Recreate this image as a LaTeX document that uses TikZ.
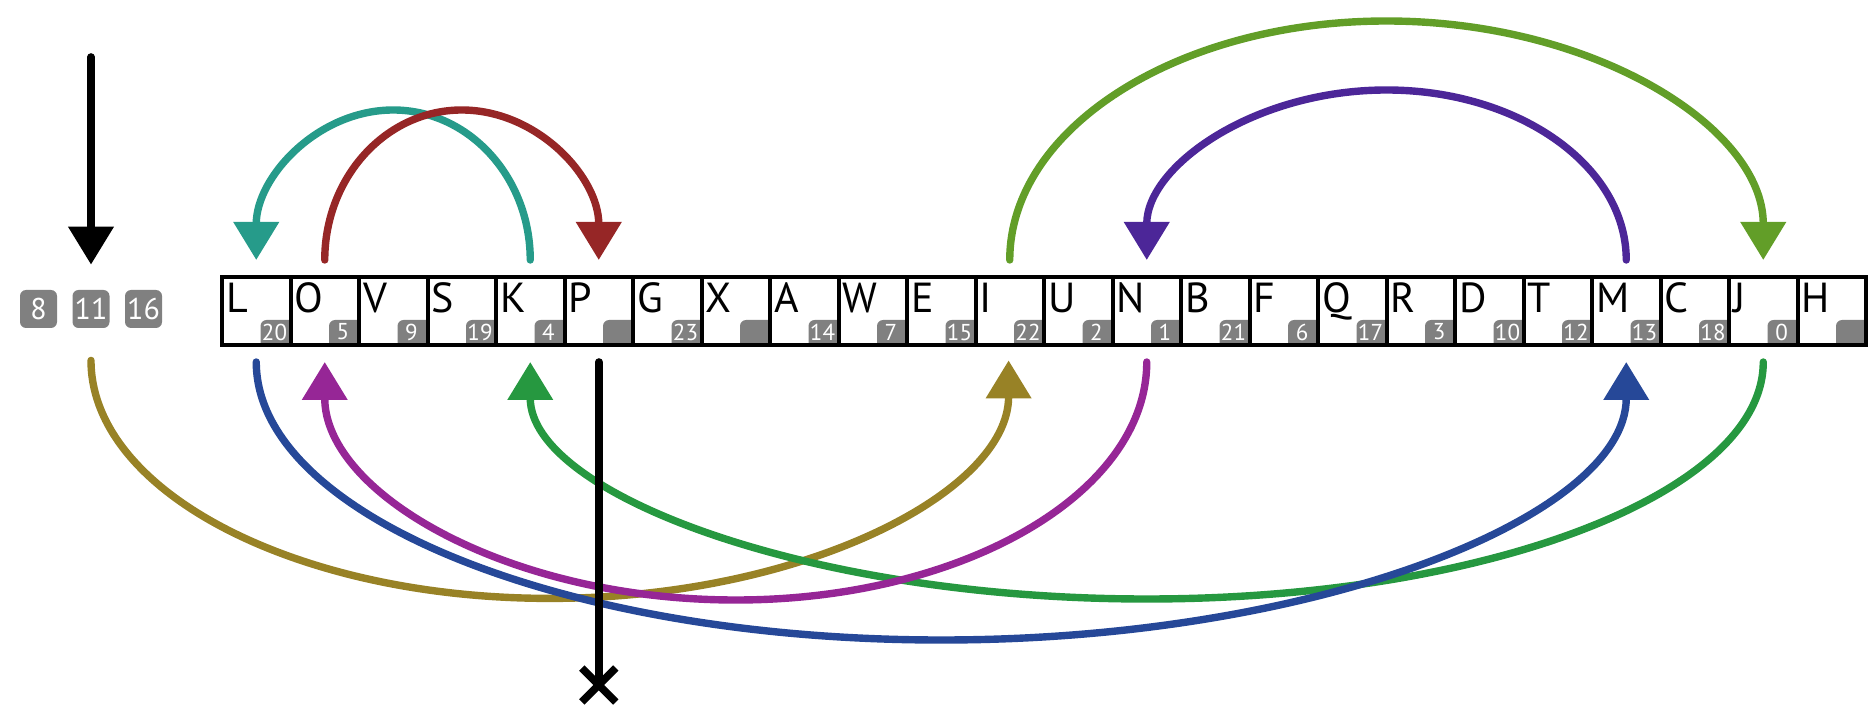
\documentclass[tikz,border=0pt]{standalone}
\usepackage{fontspec}
\setmainfont{PT Sans}
\usetikzlibrary{arrows.meta}
\definecolor{cTeal}{HTML}{269B8A}
\definecolor{cRed}{HTML}{962626}
\definecolor{cLime}{HTML}{629E28}
\definecolor{cPurple}{HTML}{4C2698}
\definecolor{cOlive}{HTML}{988226}
\definecolor{cBlue}{HTML}{264898}
\definecolor{cMag}{HTML}{962696}
\definecolor{cGreen}{HTML}{269840}
\definecolor{cGrey}{HTML}{808080}
\begin{document}
\begin{tikzpicture}[x=0.5pt,y=-0.5pt,
  cellbox/.style={draw=black, line width=2pt, minimum width=34.25pt, minimum height=33.85pt, inner sep=0pt},
  letter/.style={anchor=base west, inner sep=0pt, font=\fontsize{21}{24}\selectfont},
  numtxt/.style={inner sep=0pt, text=white, font=\fontsize{11.5}{13}\selectfont},
  lbadge/.style={fill=cGrey, rounded corners=3pt, minimum width=18.5pt, minimum height=19pt, inner sep=0pt, text=white, font=\fontsize{15}{17}\selectfont},
  conn/.style={line width=3.7pt, line cap=round},
  tip/.style={-{Triangle[width=22pt,length=19pt]}},
  blk/.style={line width=3.8pt, line cap=round}]
\useasboundingbox (0,0) rectangle (1873,705);
% badges inside cells
\foreach \l/\n [count=\i from 0] in {L/20,O/5,V/9,S/19,K/4,P/,G/23,X/,A/14,W/7,E/15,I/22,U/2,N/1,B/21,F/6,Q/17,R/3,D/10,T/12,M/13,C/18,J/0,H/}{
  \pgfmathsetmacro{\cl}{222+68.5*\i}
  \pgfmathsetmacro{\cr}{222+68.5*(\i+1)}
  \begin{scope}
    \clip (\cl,277) rectangle (\cr,344.7);
    \fill[cGrey, rounded corners=3pt] (\cr-30,320) rectangle (\cr+12,356);
  \end{scope}
  \node[numtxt] (n\i) at (\cr-16,332) {\n};
  \node[letter] (l\i) at (\cl+4,313) {\l};
}
% cell boxes
\foreach \i in {0,...,23}{
  \pgfmathsetmacro{\cx}{256.25+68.5*\i}
  \node[cellbox] (c\i) at (\cx,310.85) {};
  \coordinate (t\i) at ([yshift=7.5pt]c\i.north);
  \coordinate (b\i) at ([yshift=-7.65pt]c\i.south);
}
% left badges
\node[lbadge] (k8) at (38.5,309) {8};
\node[lbadge] (k11) at (91,309) {11};
\node[lbadge] (k16) at (143.5,309) {16};
\coordinate (src) at (91,57);
\coordinate (ostart) at ([yshift=-16pt]k11.south);
\coordinate (xm) at ([yshift=-161.5pt]b5);
% top connectors
\draw[blk,tip] (src) -- ([yshift=12.5pt]k11.north);
\draw[conn,tip,cTeal] (t4) arc[start angle=0, end angle=180, x radius=68.5pt, y radius=75pt];
\draw[conn,tip,cRed] (t1) arc[start angle=180, end angle=0, x radius=68.5pt, y radius=75pt];
\draw[conn,tip,cLime] (t11) arc[start angle=180, end angle=0, x radius=188.375pt, y radius=119.5pt];
\draw[conn,tip,cPurple] (t20) arc[start angle=0, end angle=180, x radius=119.875pt, y radius=85pt];
% bottom connectors
\draw[conn,tip,cOlive] (ostart) arc[start angle=180, end angle=360, x radius=229.4pt, y radius=119pt];
\draw[conn,tip,cGreen] (b22) arc[start angle=360, end angle=180, x radius=308.25pt, y radius=118.5pt];
\draw[conn,tip,cMag] (b13) arc[start angle=360, end angle=180, x radius=205.5pt, y radius=119pt];
\draw[conn,tip,cBlue] (b0) arc[start angle=180, end angle=360, x radius=342.5pt, y radius=139pt];
\draw[blk] (b5) -- (xm);
\draw[line width=3.8pt] ([shift={(-17,-17)}]xm) -- ([shift={(17,17)}]xm);
\draw[line width=3.8pt] ([shift={(-17,17)}]xm) -- ([shift={(17,-17)}]xm);
\end{tikzpicture}
\end{document}
